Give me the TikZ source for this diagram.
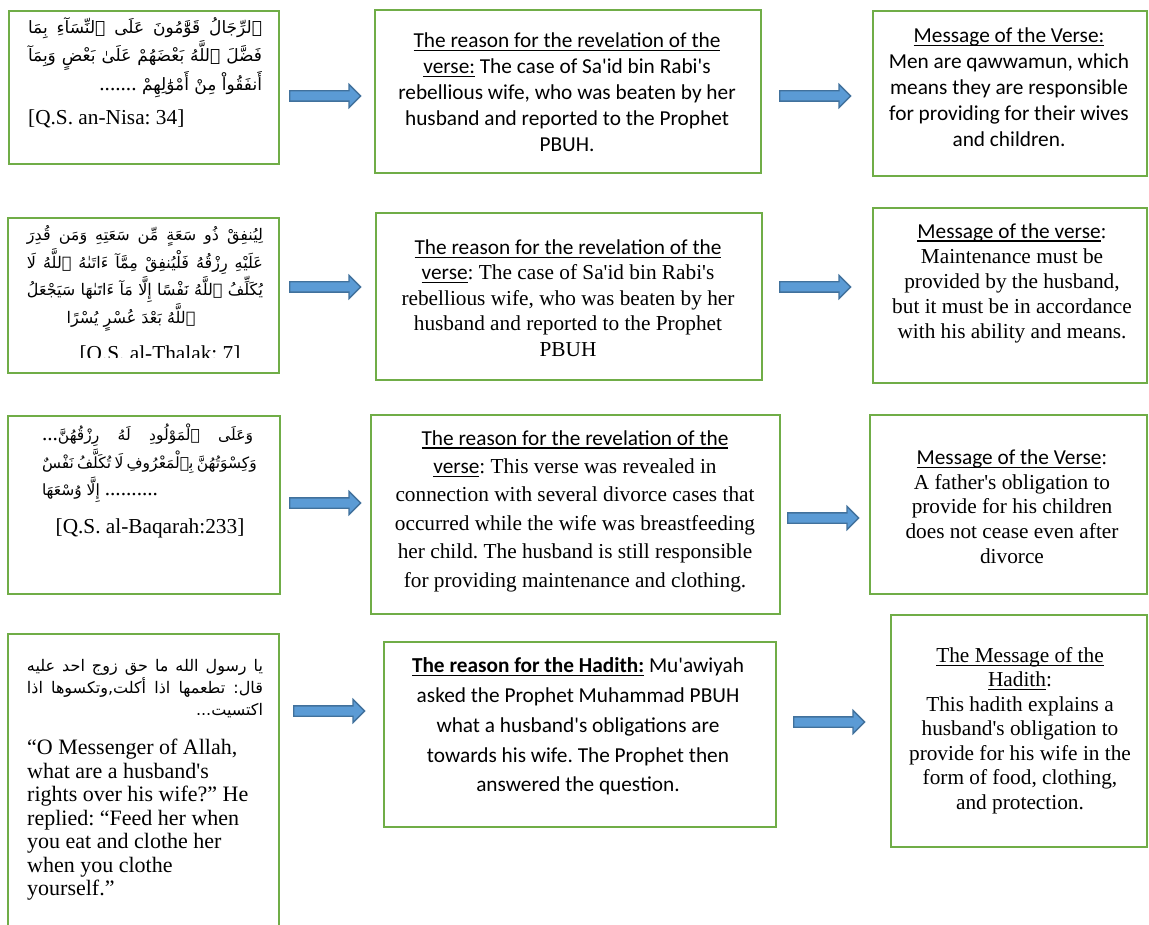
\documentclass[tikz,border=0pt]{standalone}
\usepackage{fontspec}
\usetikzlibrary{shapes.arrows}
\setmainfont{Liberation Serif}
\newfontfamily\calib{Carlito}
\newfontfamily\arabicfont[Script=Arabic]{DejaVu Sans}
\TeXXeTstate=1
\frenchspacing

\definecolor{boxgreen}{HTML}{70AD47}
\definecolor{arrowblue}{HTML}{5B9BD5}
\definecolor{arrowline}{HTML}{41719C}

%underline at a fixed depth, like a word processor does
\newsavebox{\undlbox}
\newcommand{\undl}[1]{\sbox{\undlbox}{#1}\rlap{\rule[-3.6pt]{\wd\undlbox}{1.3pt}}\usebox{\undlbox}}
\newcommand{\qs}{\textquotesingle}
\newcommand{\dts}[1]{{\rmfamily\fontsize{21.3}{26}\selectfont #1}}

\tikzset{
	box/.style={draw=boxgreen, line width=2.2pt, inner sep=0pt, anchor=north west},
	blockarrow/.style={single arrow, draw=arrowline, fill=arrowblue, line width=1.3pt,
		inner xsep=0pt, inner ysep=4.5pt, minimum width=0pt, minimum height=71pt,
		single arrow head extend=6.5pt, anchor=tail},
	calibtxt/.style={align=center, inner sep=0pt, font=\calib\fontsize{21.3}{#1}\selectfont},
	timestxt/.style={align=center, inner sep=0pt, font=\fontsize{21.3}{#1}\selectfont},
	arab/.style={align=center, inner sep=0pt, font=\arabicfont\fontsize{#1}{27.5}\selectfont},
}

\begin{document}
\begin{tikzpicture}[x=1pt,y=-1pt]
	\useasboundingbox (0,0) rectangle (1149,925);
	\clip (0,0) rectangle (1149,925);

	%green boxes: name/left/top/right/bottom (in px)
	\foreach \n/\xa/\ya/\xb/\yb in {a1/8/10/278/163, b1/374/9/760/172, c1/872/10/1146/175,
		a2/7/217/278/372, b2/375/212/761/379, c2/872/207/1146/382,
		a3/7/415/279/593, b3/370/414/779/613, c3/869/414/1146/593,
		a4/7/633/278/940, b4/383/641/775/826, c4/890/614/1146/846}
		\node[box, minimum width={\xb-\xa}, minimum height={\yb-\ya}] (\n) at (\xa,\ya) {};

	%block arrows between the boxes
	\foreach \n/\x/\y in {r1a/289/96, r1b/779/96, r2a/289/287, r2b/779/287,
		r3a/289/503, r3b/787/518, r4a/293/711, r4b/793/722}
		\node[blockarrow] (\n) at (\x,\y) {};

	%row 1
	\node[arab=17] (a1t) at (145,58) {%
		\makebox[234pt][s]{\beginR ٱلرِّجَالُ قَوَّٰمُونَ عَلَى ٱلنِّسَآءِ بِمَا\endR}\\
		\makebox[234pt][s]{\beginR فَضَّلَ ٱللَّهُ بَعْضَهُمْ عَلَىٰ بَعْضٍ وَبِمَآ\endR}\\
		\makebox[234pt][r]{\beginR أَنفَقُواْ مِنْ أَمْوَٰلِهِمْ \dts{.......}\endR}};
	\node[timestxt=26, anchor=base west] (a1c) at (28,125) {[Q.S. an-Nisa: 34]};
	\node[calibtxt=26] (b1t) at (567,92.5) {\undl{The reason for the revelation of the}\\
		\undl{verse:} The case of Sa\qs id bin Rabi\qs s\\
		rebellious wife, who was beaten by her\\
		husband and reported to the Prophet\\
		PBUH.};
	\node[calibtxt=26] (c1t) at (1009,87.5) {\undl{Message of the Verse:}\\
		Men are qawwamun, which\\
		means they are responsible\\
		for providing for their wives\\
		and children.};

	%row 2
	\node[arab=16] (a2t) at (145,278.5) {%
		\makebox[236pt][s]{\beginR لِيُنفِقْ ذُو سَعَةٍ مِّن سَعَتِهِ وَمَن قُدِرَ\endR}\\
		\makebox[236pt][s]{\beginR عَلَيْهِ رِزْقُهُ فَلْيُنفِقْ مِمَّآ ءَاتَىٰهُ ٱللَّهُ لَا\endR}\\
		\makebox[236pt][s]{\beginR يُكَلِّفُ ٱللَّهُ نَفْسًا إِلَّا مَآ ءَاتَىٰهَا سَيَجْعَلُ\endR}\\
		\makebox[236pt][c]{\beginR ٱللَّهُ بَعْدَ عُسْرٍ يُسْرًا\endR\hspace*{28pt}}};
	\begin{scope}
		\clip (20,330) rectangle (270,358);
		\node[timestxt=26, anchor=base] (a2c) at (160,361) {[Q.S. al-Thalak: 7]};
	\end{scope}
	\node[timestxt=25.5] (b2t) at (568,298) {{\calib\undl{The reason for the revelation of the}}\\
		{\calib\undl{verse}}: The case of Sa\qs id bin Rabi\qs s\\
		rebellious wife, who was beaten by her\\
		husband and reported to the Prophet\\
		PBUH};
	\node[timestxt=25] (c2t) at (1012,283) {{\calib\undl{Message of the verse}}:\\
		Maintenance must be\\
		provided by the husband,\\
		but it must be in accordance\\
		with his ability and means.};

	%row 3
	\node[arab=15.5] (a3t) at (147.5,463) {%
		\makebox[211pt][s]{\dts{...}\beginR وَعَلَى ٱلْمَوْلُودِ لَهُ رِزْقُهُنَّ\endR}\\
		\makebox[211pt][s]{\beginR وَكِسْوَتُهُنَّ بِٱلْمَعْرُوفِ لَا تُكَلَّفُ نَفْسٌ\endR}\\
		\makebox[211pt][l]{\beginR إِلَّا وُسْعَهَا\endR\ \dts{..........}}};
	\node[timestxt=26, anchor=base] (a3c) at (150,533) {[Q.S. al-Baqarah:233]};
	\node[timestxt=28.4] (b3t) at (575,511) {{\calib\undl{The reason for the revelation of the}}\\
		{\calib\undl{verse}}: This verse was revealed in\\
		connection with several divorce cases that\\
		occurred while the wife was breastfeeding\\
		her child. The husband is still responsible\\
		for providing maintenance and clothing.};
	\node[timestxt=24.75] (c3t) at (1012,506.5) {{\calib\undl{Message of the Verse}}:\\
		A father\qs s obligation to\\
		provide for his children\\
		does not cease even after\\
		divorce};

	%row 4
	\node[align=center, inner sep=0pt, font=\arabicfont\fontsize{16}{22}\selectfont] (a4t) at (145,689) {%
		\makebox[236pt][s]{\beginR يا رسول الله ما حق زوج احد عليه\endR}\\
		\makebox[236pt][s]{\beginR قال: تطعمها اذا أكلت,وتكسوها اذا\endR}\\
		\makebox[236pt][r]{\beginR اكتسيت...\endR}};
	\node[align=left, inner sep=0pt, font=\fontsize{22}{23.5}\selectfont, anchor=north west] (a4e) at (27,739) {%
		“O Messenger of Allah,\\
		what are a husband\qs s\\
		rights over his wife?” He\\
		replied: “Feed her when\\
		you eat and clothe her\\
		when you clothe\\
		yourself.”};
	\node[calibtxt=29.75] (b4t) at (578,726.5) {{\bfseries\undl{The reason for the Hadith:}} Mu\qs awiyah\\
		asked the Prophet Muhammad PBUH\\
		what a husband\qs s obligations are\\
		towards his wife. The Prophet then\\
		answered the question.};
	\node[timestxt=24.5] (c4t) at (1020,730.5) {\undl{The Message of the}\\
		\undl{Hadith}:\\
		This hadith explains a\\
		husband\qs s obligation to\\
		provide for his wife in the\\
		form of food, clothing,\\
		and protection.};
\end{tikzpicture}
\end{document}
